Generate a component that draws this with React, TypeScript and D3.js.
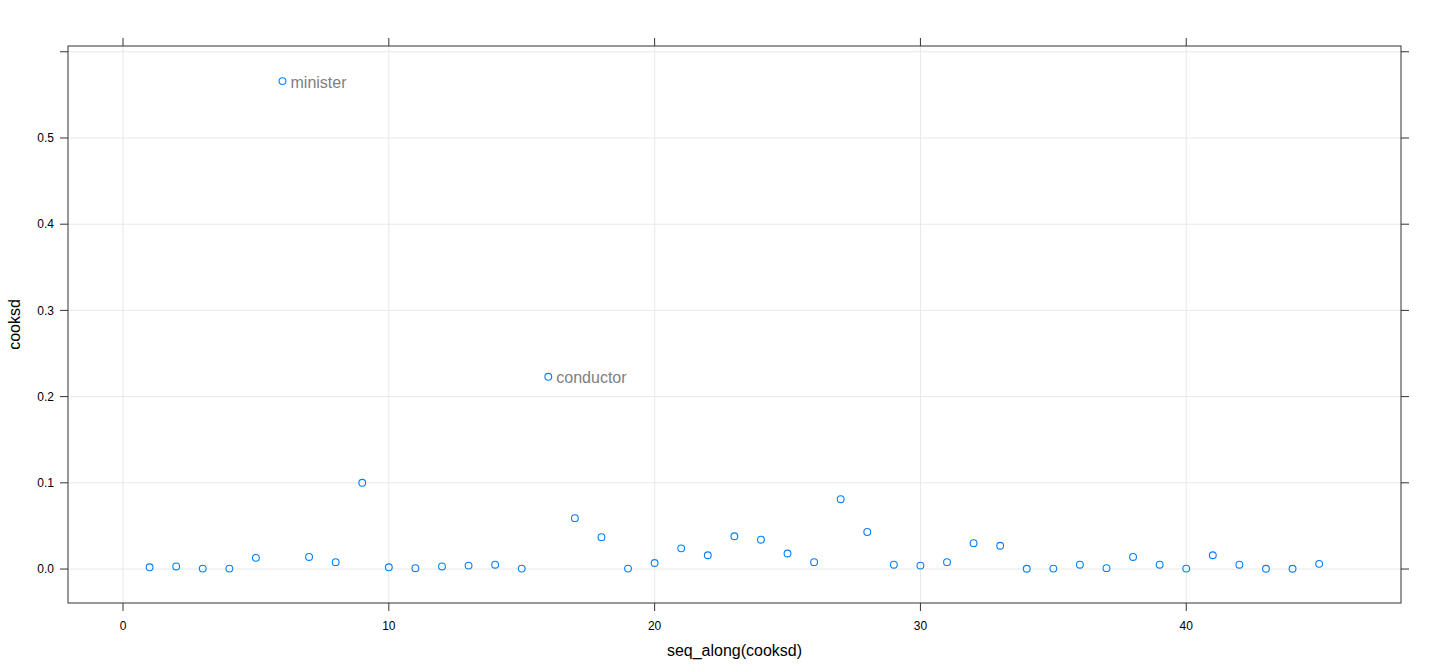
import React from "react";
import * as d3 from "d3";

const cooksd = [
  0.002, 0.003, 0.0005, 0.0005, 0.013, 0.566, 0.014, 0.008, 0.1, 0.002,
  0.001, 0.003, 0.004, 0.005, 0.0005, 0.223, 0.059, 0.037, 0.0005, 0.007,
  0.024, 0.016, 0.038, 0.034, 0.018, 0.008, 0.081, 0.043, 0.005, 0.004,
  0.008, 0.03, 0.027, 0.0003, 0.0005, 0.005, 0.001, 0.014, 0.005, 0.0005,
  0.016, 0.005, 0.0003, 0.0003, 0.006,
];
// labelled outliers (index is 1-based)
const outlierIdx = [6, 16];
const outlierNames = ["minister", "conductor"];

const xTicks = [0, 10, 20, 30, 40];
const yTicks = [0, 0.1, 0.2, 0.3, 0.4, 0.5, 0.6];
const yTickLabels = ["0.0", "0.1", "0.2", "0.3", "0.4", "0.5", ""];

const W = 1440;
const H = 672;
const left = 68, right = 1401, top = 46, bottom = 603;
const font = "'Liberation Sans', Arial, Helvetica, sans-serif";

export default function App() {
  const x = d3.scaleLinear().domain([-2.07, 48.08]).range([left, right]);
  const y = d3.scaleLinear().domain([-0.0394, 0.6067]).range([bottom, top]);
  const pts = cooksd.map((v, i) => ({ i: i + 1, v }));
  const axisCol = "#333";

  return (
    <svg width={W} height={H} style={{ position: "absolute", left: 0, top: 0, background: "#fff" }}>
      {/* grid */}
      {xTicks.map((t) => (
        <line key={"gx" + t} x1={x(t)} x2={x(t)} y1={top} y2={bottom} stroke="#e8e8e8" strokeWidth={1} />
      ))}
      {yTicks.map((t) => (
        <line key={"gy" + t} x1={left} x2={right} y1={y(t)} y2={y(t)} stroke="#e8e8e8" strokeWidth={1} />
      ))}

      {/* ticks, all four sides */}
      {xTicks.map((t) => (
        <g key={"tx" + t}>
          <line x1={x(t)} x2={x(t)} y1={bottom} y2={bottom + 8} stroke={axisCol} />
          <line x1={x(t)} x2={x(t)} y1={top} y2={top - 8} stroke={axisCol} />
          <text x={x(t)} y={bottom + 27} textAnchor="middle" fontSize={12} fontFamily={font} fill="#000">
            {t}
          </text>
        </g>
      ))}
      {yTicks.map((t, k) => (
        <g key={"ty" + t}>
          <line x1={left} x2={left - 8} y1={y(t)} y2={y(t)} stroke={axisCol} />
          <line x1={right} x2={right + 8} y1={y(t)} y2={y(t)} stroke={axisCol} />
          <text x={left - 14} y={y(t)} dy="0.35em" textAnchor="end" fontSize={12} fontFamily={font} fill="#000">
            {yTickLabels[k]}
          </text>
        </g>
      ))}

      {/* panel box */}
      <rect x={left} y={top} width={right - left} height={bottom - top} fill="none" stroke={axisCol} strokeWidth={1} />

      {/* points */}
      {pts.map((p) => (
        <circle key={p.i} cx={x(p.i)} cy={y(p.v)} r={3.4} fill="none" stroke="#0080ff" strokeWidth={1.1} />
      ))}

      {/* outlier labels */}
      {outlierIdx.map((idx, k) => (
        <text
          key={"lab" + idx}
          x={x(idx) + 8}
          y={y(cooksd[idx - 1]) + 1}
          dy="0.35em"
          fontSize={16}
          fontFamily={font}
          fill="#808080"
        >
          {outlierNames[k]}
        </text>
      ))}

      {/* axis titles */}
      <text x={(left + right) / 2} y={656} textAnchor="middle" fontSize={16} fontFamily={font} fill="#000">
        seq_along(cooksd)
      </text>
      <text
        transform={`translate(20,${(top + bottom) / 2}) rotate(-90)`}
        textAnchor="middle"
        fontSize={16}
        fontFamily={font}
        fill="#000"
      >
        cooksd
      </text>
    </svg>
  );
}
